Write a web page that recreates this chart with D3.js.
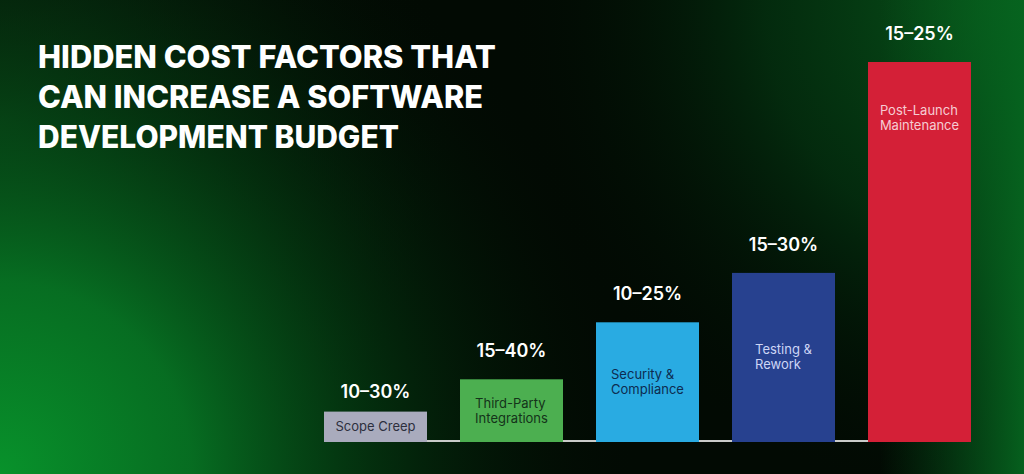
<!DOCTYPE html>
<html>
<head>
<meta charset="utf-8">
<script src="https://cdn.jsdelivr.net/npm/d3@7"></script>
<style>
  html, body { margin: 0; padding: 0; background: #020a03; }
  svg { display: block; }
</style>
</head>
<body>
<svg id="chart" width="1024" height="474"></svg>
<script>
// ---- data ----
const titleLines = ["HIDDEN COST FACTORS THAT", "CAN INCREASE A SOFTWARE", "DEVELOPMENT BUDGET"];
const categories = ["Scope Creep", "Third-Party Integrations", "Security & Compliance", "Testing & Rework", "Post-Launch Maintenance"];
const categoryLines = [["Scope Creep"], ["Third-Party", "Integrations"], ["Security &", "Compliance"], ["Testing &", "Rework"], ["Post-Launch", "Maintenance"]];
const rangeLabels = ["10–30%", "15–40%", "10–25%", "15–30%", "15–25%"];
// relative bar heights as drawn (tallest = 100)
const barValues = [8, 16.5, 31.5, 44.5, 100];
const barColors = ["#a9abbd", "#4caf50", "#29abe2", "#27418f", "#d42037"];
const textColors = ["#2d2f3d", "#14331a", "#0d2c50", "#cdd6f6", "#f6ccd3"];

// ---- layout ----
const W = 1024, H = 474;
const svg = d3.select("#chart");
const defs = svg.append("defs");

// background
svg.append("rect").attr("width", W).attr("height", H).attr("fill", "#020a03");

const g4 = defs.append("radialGradient").attr("id", "glowTL")
  .attr("gradientUnits", "userSpaceOnUse").attr("cx", 0).attr("cy", 120).attr("r", 460);
g4.append("stop").attr("offset", 0).attr("stop-color", "#0a4016").attr("stop-opacity", 0.9);
g4.append("stop").attr("offset", 1).attr("stop-color", "#020a03").attr("stop-opacity", 0);
svg.append("rect").attr("width", W).attr("height", H).attr("fill", "url(#glowTL)");

const g1 = defs.append("radialGradient").attr("id", "glowBL")
  .attr("gradientUnits", "userSpaceOnUse").attr("cx", 0).attr("cy", H).attr("r", 640);
g1.append("stop").attr("offset", 0).attr("stop-color", "#08922b").attr("stop-opacity", 1);
g1.append("stop").attr("offset", 0.3).attr("stop-color", "#077223").attr("stop-opacity", 0.95);
g1.append("stop").attr("offset", 0.6).attr("stop-color", "#043d12").attr("stop-opacity", 0.65);
g1.append("stop").attr("offset", 1).attr("stop-color", "#020a03").attr("stop-opacity", 0);
svg.append("rect").attr("width", W).attr("height", H).attr("fill", "url(#glowBL)");

const g2 = defs.append("radialGradient").attr("id", "glowTR")
  .attr("gradientUnits", "userSpaceOnUse").attr("cx", W).attr("cy", 0).attr("r", 520);
g2.append("stop").attr("offset", 0).attr("stop-color", "#085c1c").attr("stop-opacity", 1);
g2.append("stop").attr("offset", 0.5).attr("stop-color", "#043812").attr("stop-opacity", 0.7);
g2.append("stop").attr("offset", 1).attr("stop-color", "#020a03").attr("stop-opacity", 0);
svg.append("rect").attr("width", W).attr("height", H).attr("fill", "url(#glowTR)");

const g3 = defs.append("linearGradient").attr("id", "glowR")
  .attr("gradientUnits", "userSpaceOnUse").attr("x1", 880).attr("y1", 0).attr("x2", W).attr("y2", 0);
g3.append("stop").attr("offset", 0).attr("stop-color", "#06581c").attr("stop-opacity", 0);
g3.append("stop").attr("offset", 1).attr("stop-color", "#06641f").attr("stop-opacity", 0.95);
svg.append("rect").attr("x", 850).attr("width", W - 850).attr("height", H).attr("fill", "url(#glowR)");

// title
const titleWidths = [458, 445, 361];
svg.append("g").selectAll("text").data(titleLines).join("text")
  .attr("x", 38)
  .attr("y", (d, i) => 68 + i * 40)
  .attr("textLength", (d, i) => titleWidths[i])
  .attr("lengthAdjust", "spacingAndGlyphs")
  .attr("fill", "#ffffff")
  .style("font-family", "Inter, 'Open Sans', sans-serif")
  .style("font-weight", 800)
  .style("font-size", "31px")
  .text(d => d);

// scales
const x = d3.scaleBand().domain(categories).range([324, 971]).paddingInner(33 / 136).paddingOuter(0);
const y = d3.scaleLinear().domain([0, 100]).range([442, 62]);

// baseline
svg.append("line")
  .attr("x1", x(categories[0])).attr("x2", x(categories[categories.length - 1]))
  .attr("y1", 441).attr("y2", 441)
  .attr("stroke", "#c9cbc9").attr("stroke-width", 2);

// bars
const bars = svg.append("g").selectAll("g").data(categories).join("g");
bars.append("rect")
  .attr("x", d => x(d))
  .attr("y", (d, i) => y(barValues[i]))
  .attr("width", x.bandwidth())
  .attr("height", (d, i) => y(0) - y(barValues[i]))
  .attr("fill", (d, i) => barColors[i]);

// range labels
svg.append("g").selectAll("text").data(rangeLabels).join("text")
  .attr("x", (d, i) => x(categories[i]) + x.bandwidth() / 2)
  .attr("y", (d, i) => y(barValues[i]) - (i === 0 ? 14 : 22))
  .attr("text-anchor", "middle")
  .attr("fill", "#ffffff")
  .style("font-family", "Inter, 'Open Sans', sans-serif")
  .style("font-weight", 600)
  .style("font-size", "18px")
  .text(d => d);

// labels inside bars
bars.each(function (d, i) {
  const gSel = d3.select(this);
  const lines = categoryLines[i];
  const top = y(barValues[i]);
  const h = y(0) - top;
  const cy = h > 250 ? top + 56 : top + h / 2;
  const lh = 15;
  const t = gSel.append("text")
    .attr("fill", textColors[i])
    .style("font-family", "Inter, 'Open Sans', sans-serif")
    .style("font-weight", 400)
    .style("font-size", "13px");
  const tsp = t.selectAll("tspan").data(lines).join("tspan")
    .attr("y", (l, k) => cy + 4.5 + (k - (lines.length - 1) / 2) * lh)
    .text(l => l);
  let maxW = 0;
  tsp.each(function () { maxW = Math.max(maxW, this.getComputedTextLength()); });
  tsp.attr("x", x(d) + x.bandwidth() / 2 - maxW / 2);
});
</script>
</body>
</html>
